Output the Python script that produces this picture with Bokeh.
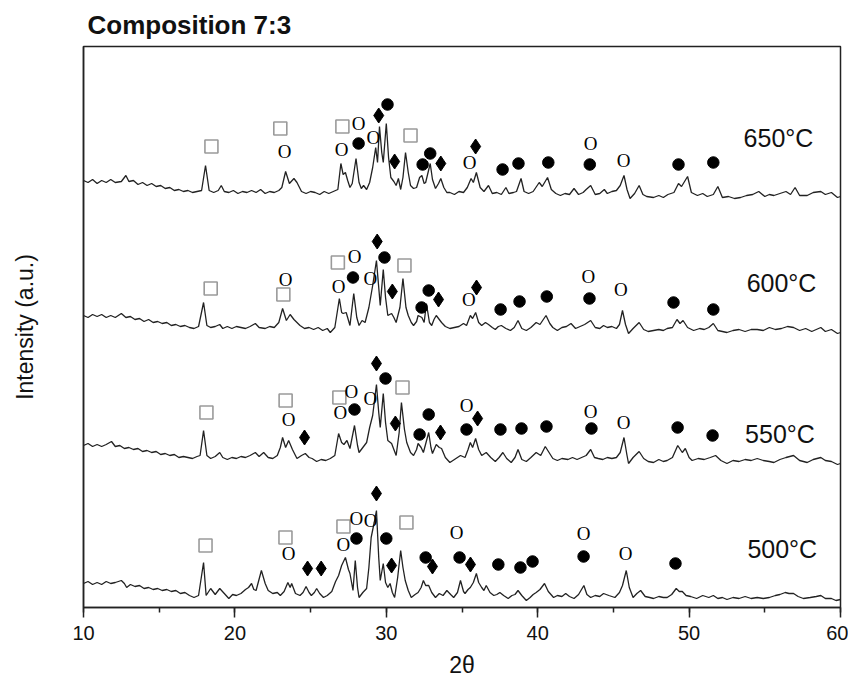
from bokeh.plotting import figure
from bokeh.models import Range1d, SingleIntervalTicker, FixedTicker
from bokeh.core.properties import value
from bokeh.embed import file_html
from bokeh.resources import INLINE

# ---- XRD traces (2theta, intensity a.u. with vertical offsets as in the figure) ----
x_650 = [10.0,10.3,10.6,10.9,11.2,11.5,11.8,12.1,12.5,12.8,13.0,13.3,13.6,13.9,14.2,14.5,14.8,15.1,15.4,15.7,16.0,16.3,16.6,16.9,17.2,17.5,17.8,18.06,18.3,18.6,18.9,19.1,19.3,19.6,19.9,20.2,20.5,20.8,21.1,21.4,21.7,22.0,22.3,22.6,22.9,23.1,23.35,23.6,23.9,24.1,24.4,24.7,25.0,25.3,25.6,25.9,26.2,26.5,26.8,27.0,27.15,27.3,27.45,27.6,27.75,28.0,28.2,28.35,28.5,28.7,28.9,29.1,29.3,29.42,29.55,29.7,29.8,30.0,30.15,30.3,30.5,30.65,30.8,30.95,31.1,31.27,31.45,31.6,31.8,32.0,32.2,32.35,32.5,32.6,32.9,33.05,33.25,33.45,33.6,33.8,34.0,34.2,34.5,34.8,35.1,35.35,35.6,35.75,35.95,36.2,36.45,36.75,37.0,37.3,37.6,37.9,38.1,38.4,38.6,38.9,39.1,39.4,39.7,40.1,40.3,40.65,40.9,41.2,41.5,41.8,42.1,42.4,42.7,43.0,43.2,43.5,43.8,44.1,44.4,44.6,44.9,45.2,45.45,45.7,45.9,46.1,46.4,46.7,46.95,47.2,47.65,48.0,48.3,48.6,49.0,49.3,49.5,49.9,50.15,50.55,50.9,51.2,51.6,51.9,52.2,52.6,53.0,53.4,53.8,54.2,54.6,55.0,55.3,55.6,56.0,56.4,56.7,57.0,57.3,57.8,58.2,58.7,59.0,59.4,59.8,60.0]
y_650 = [427,425,428,424,427,425,428,425,426,432,426,427,423,425,422,424,421,422,419,420,417,418,416,417,415,416,417,442,417,415,417,422,416,415,417,414,416,415,417,415,418,414,416,415,417,420,436,424,429,425,416,414,416,415,413,416,414,416,418,444,433,435,427,420,424,449,425,419,422,418,425,440,460,445,481,455,445,484,450,430,426,422,429,418,430,455,435,422,419,420,430,432,424,425,444,428,419,424,429,420,415,415,413,416,415,420,429,425,435,420,416,422,414,415,413,420,414,415,416,429,416,414,416,425,421,430,418,414,412,414,413,419,413,415,418,422,413,414,418,414,416,417,422,432,418,409,414,422,413,411,410,412,410,413,415,424,421,431,415,412,414,411,413,421,410,411,409,410,412,413,416,411,413,412,414,416,413,420,412,412,415,416,413,415,410,411]

x_600 = [10.0,10.3,10.6,10.9,11.2,11.5,11.8,12.1,12.5,12.8,13.1,13.4,13.7,14.0,14.3,14.6,14.9,15.2,15.5,15.8,16.1,16.4,16.7,17.0,17.3,17.6,17.93,18.15,18.4,18.7,19.0,19.2,19.5,19.8,20.1,20.4,20.7,21.0,21.35,21.6,22.0,22.3,22.6,22.9,23.15,23.4,23.65,23.9,24.3,24.6,24.9,25.2,25.5,25.8,26.1,26.3,26.6,26.9,27.05,27.15,27.35,27.6,27.85,28.05,28.2,28.4,28.6,28.85,29.1,29.35,29.5,29.6,29.8,29.95,30.1,30.35,30.5,30.65,30.9,31.1,31.3,31.45,31.65,31.8,32.0,32.1,32.35,32.5,32.65,32.85,33.0,33.15,33.3,33.5,33.65,33.9,34.2,34.5,34.8,35.1,35.3,35.55,35.7,35.9,36.1,36.3,36.55,36.75,37.0,37.2,37.4,37.6,37.9,38.2,38.45,38.7,38.95,39.25,39.55,39.9,40.15,40.55,40.8,41.0,41.3,41.6,41.9,42.2,42.5,42.8,43.1,43.5,43.8,44.1,44.35,44.6,44.9,45.2,45.4,45.6,45.8,46.0,46.3,46.7,47.0,47.3,47.65,48.0,48.3,48.55,48.9,49.2,49.4,49.6,49.9,50.3,50.7,51.0,51.3,51.6,51.9,52.2,52.5,52.9,53.3,53.7,54.1,54.5,54.9,55.3,55.7,56.1,56.5,56.9,57.3,57.7,58.1,58.4,58.7,59.0,59.4,59.8,60.0]
y_600 = [292,290,293,291,293,290,292,290,294,290,291,288,289,286,288,285,286,284,285,282,283,281,282,280,279,281,305,282,280,281,283,279,281,279,281,280,279,281,284,280,279,281,280,285,299,287,293,288,282,279,280,278,280,277,279,275,280,309,295,294,295,282,314,290,282,287,285,300,322,347,320,302,338,310,292,294,290,285,300,329,300,292,285,282,286,292,290,285,304,285,282,288,292,288,285,281,279,280,281,284,282,292,289,295,285,282,285,283,280,278,281,282,279,277,280,287,279,277,280,285,283,292,284,280,277,280,281,284,279,281,283,287,280,279,282,280,281,279,283,297,283,274,279,285,278,276,277,278,277,279,280,288,284,287,280,277,279,278,280,284,277,276,275,277,278,276,278,278,277,280,278,279,281,280,277,279,276,278,280,276,278,274,275]

x_550 = [10.0,10.3,10.6,10.9,11.2,11.5,11.85,12.1,12.4,12.7,13.0,13.3,13.6,13.9,14.2,14.5,14.8,15.1,15.4,15.7,16.0,16.3,16.6,16.9,17.2,17.5,17.7,17.93,18.15,18.4,18.7,19.0,19.2,19.5,19.8,20.1,20.4,20.7,21.0,21.35,21.6,21.9,22.2,22.5,22.8,23.0,23.15,23.35,23.55,23.8,24.1,24.4,24.65,24.9,25.1,25.4,25.7,26.0,26.3,26.6,26.85,27.05,27.2,27.4,27.6,27.9,28.1,28.2,28.45,28.7,28.9,29.1,29.35,29.5,29.6,29.8,29.95,30.1,30.35,30.5,30.65,30.85,31.0,31.2,31.35,31.6,31.8,32.0,32.1,32.3,32.45,32.8,32.95,33.05,33.3,33.5,33.65,33.9,34.2,34.5,34.9,35.2,35.4,35.55,35.7,35.9,36.1,36.3,36.6,36.9,37.2,37.45,37.7,37.95,38.25,38.5,38.7,38.95,39.25,39.55,39.9,40.2,40.5,40.75,41.0,41.3,41.6,42.0,42.3,42.6,42.9,43.2,43.5,43.75,44.0,44.3,44.6,44.9,45.2,45.45,45.7,45.9,46.0,46.3,46.7,47.0,47.3,47.65,48.0,48.3,48.55,48.9,49.25,49.55,49.75,50.0,50.2,50.6,51.0,51.4,51.75,52.1,52.5,52.9,53.3,53.7,54.1,54.5,54.9,55.3,55.6,56.0,56.4,56.9,57.3,57.8,58.2,58.7,59.0,59.4,59.8,60.0]
y_550 = [162,164,161,163,161,163,166,161,162,159,160,158,159,156,157,155,156,153,154,152,153,150,151,150,149,151,152,177,152,149,151,155,150,148,150,149,151,150,152,155,151,155,150,149,152,160,170,160,167,158,149,152,154,150,149,146,148,147,149,152,174,165,163,167,159,182,162,155,160,165,180,192,223,195,180,214,185,167,164,158,152,175,205,178,165,155,152,158,164,160,155,175,160,154,163,160,159,150,145,148,152,150,158,165,160,169,158,152,155,150,146,150,155,149,145,150,158,148,146,150,155,152,161,155,149,147,149,148,150,148,150,152,158,150,149,148,150,149,150,155,170,152,144,150,156,149,146,145,148,146,147,150,162,155,159,150,147,149,148,150,152,147,144,147,146,148,147,149,147,146,145,148,150,152,147,145,148,150,147,146,143,144]

x_500 = [10.0,10.3,10.6,10.9,11.2,11.5,11.8,12.1,12.5,12.7,12.85,13.1,13.4,13.7,14.0,14.3,14.6,14.9,15.2,15.5,15.8,16.1,16.4,16.7,17.0,17.3,17.6,17.93,18.1,18.4,18.7,19.0,19.3,19.6,19.85,20.1,20.4,20.7,20.9,21.1,21.25,21.4,21.75,22.0,22.2,22.5,22.8,23.0,23.25,23.5,23.65,23.75,24.0,24.3,24.5,24.7,24.9,25.05,25.25,25.4,25.6,25.85,26.1,26.4,26.65,26.85,27.05,27.3,27.5,27.6,27.8,27.95,28.1,28.2,28.45,28.7,28.85,29.0,29.2,29.35,29.5,29.6,29.8,29.95,30.1,30.25,30.4,30.55,30.75,30.95,31.1,31.25,31.45,31.65,31.9,32.1,32.3,32.45,32.6,32.8,33.0,33.25,33.5,33.75,34.0,34.25,34.45,34.7,34.9,35.1,35.2,35.4,35.55,35.75,35.95,36.1,36.3,36.45,36.6,36.85,37.1,37.3,37.5,37.75,38.05,38.3,38.5,38.7,38.95,39.25,39.5,39.7,39.9,40.15,40.45,40.7,41.05,41.3,41.6,41.85,42.1,42.4,42.7,43.05,43.25,43.5,43.8,44.1,44.35,44.7,45.1,45.4,45.6,45.85,46.05,46.3,46.55,46.8,47.1,47.4,47.65,48.0,48.3,48.55,48.85,49.15,49.35,49.55,49.8,50.1,50.5,50.9,51.3,51.6,51.9,52.2,52.5,52.9,53.3,53.7,54.1,54.5,54.9,55.3,55.7,56.0,56.35,56.6,56.9,57.2,57.55,58.0,58.4,58.7,59.0,59.4,59.7,60.0]
y_500 = [24,26,23,25,23,26,24,25,27,24,20,23,21,22,19,20,18,19,17,18,16,17,14,15,12,10,12,45,12,19,13,19,14,9,13,12,14,18,20,24,18,17,37,24,17,14,15,12,16,25,20,24,14,12,15,21,15,12,15,19,14,10,12,16,26,32,42,50,38,34,17,47,20,10,15,19,40,70,85,97,50,27,44,25,20,24,15,10,30,57,40,27,17,10,13,15,20,27,22,22,15,10,14,12,17,13,10,15,27,16,14,18,20,25,34,25,20,17,22,15,12,13,15,12,9,12,13,17,12,7,10,13,15,18,24,16,10,12,11,14,11,9,13,22,13,10,12,11,14,12,10,15,22,37,20,10,14,17,11,10,9,11,10,10,13,19,16,16,12,11,9,12,10,12,9,10,8,10,9,11,9,10,9,10,12,13,15,14,14,11,9,10,11,12,9,9,7,8]

# ---- phase markers (2theta, position) ----
sq_x = [18.45, 23.0, 27.1, 31.6, 18.4, 23.2, 26.8, 31.2, 18.12, 23.35, 26.9, 31.07, 18.06, 23.34, 27.17, 31.33]
sq_y = [461, 479, 481, 472, 319, 313, 345, 342, 195, 207, 210, 220, 62, 70, 81, 85]

oc_x = [23.28, 27.05, 28.17, 29.15, 35.5, 43.5, 45.67,
        23.35, 26.85, 27.9, 28.95, 35.45, 43.35, 45.5,
        23.55, 26.97, 27.7, 28.95, 35.3, 43.5, 45.67,
        23.54, 27.17, 28.03, 28.96, 34.64, 43.03, 45.8]
oc_y = [456, 458, 484, 470, 445, 464, 447,
        328, 321, 351, 329, 308, 331, 318,
        188, 195, 216, 209, 202, 196, 185,
        54, 63, 89, 87, 75, 74, 54]

fc_x = [28.17, 30.08, 32.4, 32.9, 37.68, 38.73, 40.7, 43.44, 49.3, 51.6,
        27.8, 29.88, 32.33, 32.8, 37.55, 38.8, 40.6, 43.42, 48.97, 51.6,
        27.9, 29.95, 32.2, 32.8, 35.3, 37.54, 38.93, 40.58, 43.55, 49.24, 51.55,
        28.03, 30.0, 32.6, 34.84, 37.4, 38.86, 39.66, 43.03, 49.1]
fc_y = [464, 503, 443, 454, 438, 444, 445, 443, 443, 445,
        330, 350, 300, 317, 298, 306, 311, 309, 305, 298,
        198, 229, 173, 193, 178, 178, 179, 181, 179, 180, 172,
        69, 69, 50, 50, 43, 40, 46, 51, 44]

di_x = [29.5, 30.55, 33.6, 35.9,
        29.4, 30.4, 33.45, 35.96,
        24.6, 29.35, 30.6, 33.58, 36.03,
        24.8, 25.7, 29.35, 30.35, 33.05, 35.56]
di_y = [492, 446, 444, 461,
        366, 316, 308, 320,
        170, 244, 184, 175, 189,
        39, 39, 114, 42, 41, 43]

temp_labels = ["650°C", "600°C", "550°C", "500°C"]
temp_x = [53.6, 53.8, 53.7, 53.85]
temp_y = [470, 325, 174, 59]

FONT = "Liberation Sans"

p = figure(frame_width=757, frame_height=561,
           x_range=Range1d(10, 60), y_range=Range1d(0, 561),
           output_backend="svg", toolbar_location=None,
           min_border_left=83, min_border_right=8, min_border_top=46, min_border_bottom=70,
           title="Composition 7:3")
p.title.text_font = FONT
p.title.text_font_size = "26px"
p.title.text_font_style = "bold"
p.title.text_color = "#111111"
p.title.offset = 4
p.title.standoff = 14
p.grid.visible = False
p.outline_line_color = "#222222"
p.outline_line_width = 1.5
p.background_fill_color = "white"

p.xaxis.ticker = SingleIntervalTicker(interval=10, num_minor_ticks=2)
p.xaxis.major_tick_in = 0
p.xaxis.major_tick_out = 10
p.xaxis.minor_tick_in = 0
p.xaxis.minor_tick_out = 5
p.xaxis.major_tick_line_width = 1.5
p.xaxis.minor_tick_line_width = 1.5
p.xaxis.axis_line_width = 1.5
p.xaxis.axis_line_color = "#222222"
p.xaxis.major_tick_line_color = "#222222"
p.xaxis.minor_tick_line_color = "#222222"
p.xaxis.major_label_text_font = FONT
p.xaxis.major_label_text_font_size = "20px"
p.xaxis.major_label_text_color = "#111111"
p.xaxis.major_label_standoff = 8
p.xaxis.axis_label = "2θ"
p.xaxis.axis_label_text_font = FONT
p.xaxis.axis_label_text_font_size = "23px"
p.xaxis.axis_label_text_font_style = "normal"
p.xaxis.axis_label_text_color = "#111111"
p.xaxis.axis_label_standoff = 9

p.yaxis.ticker = FixedTicker(ticks=[])
p.yaxis.axis_line_width = 1.5
p.yaxis.axis_line_color = "#222222"
p.yaxis.axis_label = "Intensity (a.u.)"
p.yaxis.axis_label_text_font = FONT
p.yaxis.axis_label_text_font_size = "23px"
p.yaxis.axis_label_text_font_style = "normal"
p.yaxis.axis_label_text_color = "#111111"
p.yaxis.axis_label_standoff = 46

for xs, ys in [(x_650, y_650), (x_600, y_600), (x_550, y_550), (x_500, y_500)]:
    p.line(xs, ys, line_color="#222222", line_width=1.3)

p.scatter(sq_x, sq_y, marker="square", size=13, fill_color=None,
          line_color="#9a9a9a", line_width=1.6)
p.scatter(fc_x, fc_y, marker="circle", size=11.5, fill_color="black", line_color="black")
p.scatter(di_x, di_y, marker="diamond", size=15, fill_color="black", line_color="black")
p.text(oc_x, oc_y, text=["O"] * len(oc_x), text_font=value("Liberation Serif"),
       text_font_size="19px", text_align="center", text_baseline="middle", text_color="black")

p.text(temp_x, temp_y, text=temp_labels, text_font=value(FONT), text_font_size="25px",
       text_align="left", text_baseline="middle", text_color="#111111")

open("out.html", "w").write(file_html(p, INLINE))
